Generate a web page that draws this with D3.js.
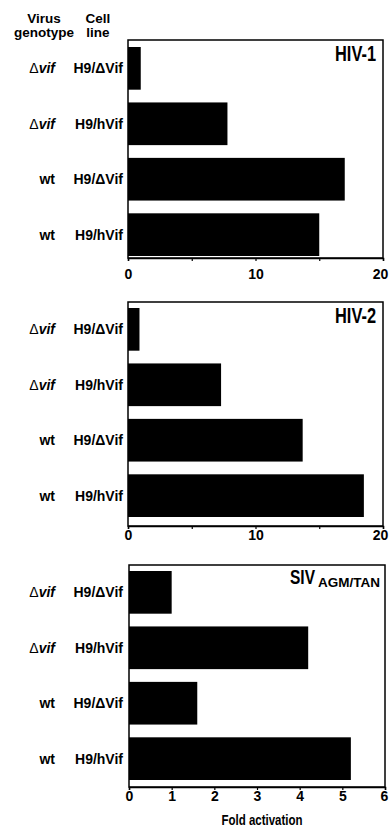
<!DOCTYPE html>
<html>
<head>
<meta charset="utf-8">
<script src="https://cdn.jsdelivr.net/npm/d3@7"></script>
<style>
  body { margin: 0; background: #fff; }
  text { font-family: "Liberation Sans", Arial, Helvetica, sans-serif; font-weight: bold; fill: #000; }
</style>
</head>
<body>
<script>
// Width and height
var w = 389;
var h = 829;

// Row labels (same for every panel)
var genotypes = ["vif", "vif", "wt", "wt"];
var cellLines = ["H9/\u0394Vif", "H9/hVif", "H9/\u0394Vif", "H9/hVif"];

// Fold activation values
var hiv1 = [1.0, 7.8, 17.0, 15.0];
var hiv2 = [0.9, 7.3, 13.7, 18.5];
var siv = [1.0, 4.2, 1.6, 5.2];

// Axis ticks
var ticks20 = [0, 5, 10, 15, 20];
var labels20 = [0, 10, 20];
var ticks6 = [0, 1, 2, 3, 4, 5, 6];

// Panel layout
var panels = [
  { values: hiv1, max: 20, ticks: ticks20, labels: labels20, left: 128, right: 383, top: 40, bottom: 258, barTop: 47, barBottom: 256, pad: 8 },
  { values: hiv2, max: 20, ticks: ticks20, labels: labels20, left: 128, right: 383, top: 302, bottom: 526, barTop: 308, barBottom: 517, pad: 1 },
  { values: siv, max: 6, ticks: ticks6, labels: ticks6, left: 129, right: 385, top: 565, bottom: 787, barTop: 571, barBottom: 780, pad: 1 }
];

var svg = d3.select("body")
            .append("svg")
            .attr("width", w)
            .attr("height", h);

// Column headers
var headers = [["Virus", 44, 23], ["genotype", 44, 37], ["Cell", 98, 23], ["line", 98, 37]];
svg.selectAll("text.header")
   .data(headers)
   .enter()
   .append("text")
   .attr("class", "header")
   .attr("x", function(d) { return d[1]; })
   .attr("y", function(d) { return d[2]; })
   .attr("text-anchor", "middle")
   .style("font-size", "13.5px")
   .text(function(d) { return d[0]; });

panels.forEach(function(p, idx) {
    var x = d3.scaleLinear().domain([0, p.max]).range([p.left, p.right]);
    var y = d3.scaleBand()
              .domain(d3.range(p.values.length))
              .range([p.barTop, p.barBottom])
              .paddingInner(0.23)
              .paddingOuter(0);

    var g = svg.append("g");

    // bars
    g.selectAll("rect.bar")
     .data(p.values)
     .enter()
     .append("rect")
     .attr("class", "bar")
     .attr("x", x(0))
     .attr("y", function(d, i) { return y(i); })
     .attr("width", function(d) { return x(d) - x(0); })
     .attr("height", y.bandwidth())
     .attr("fill", "#000");

    // frame
    g.append("rect")
     .attr("x", p.left)
     .attr("y", p.top)
     .attr("width", p.right - p.left)
     .attr("height", p.bottom - p.top)
     .attr("fill", "none")
     .attr("stroke", "#000")
     .attr("stroke-width", 1.5);

    // x axis
    var axis = g.append("g")
                .attr("transform", "translate(0," + p.bottom + ")")
                .call(d3.axisBottom(x)
                        .tickValues(p.ticks)
                        .tickSize(3)
                        .tickPadding(p.pad)
                        .tickFormat(function(d) { return p.labels.indexOf(d) >= 0 ? d : ""; }));
    axis.select(".domain").attr("stroke-width", 1.5);
    axis.selectAll("line").attr("stroke-width", 1.2);
    axis.selectAll("text")
        .style("font-size", "14px")
        .style("font-family", "'Liberation Sans', Arial, sans-serif")
        .style("font-weight", "bold")
        .attr("fill", "#000");
    // keep the last label inside the page (it sits right on the edge)
    axis.selectAll(".tick text")
        .filter(function(d) { return d === p.max; })
        .attr("dx", function() {
            var bb = this.getBBox();
            var right = x(p.max) + bb.x + bb.width;
            return right > w - 1 ? (w - 1 - right) : 0;
        });

    // genotype labels
    var gt = g.selectAll("text.geno")
              .data(genotypes)
              .enter()
              .append("text")
              .attr("class", "geno")
              .attr("x", 55)
              .attr("y", function(d, i) { return y(i) + y.bandwidth() / 2 + 5; })
              .attr("text-anchor", "end")
              .style("font-size", "14px");
    gt.each(function(d) {
        var t = d3.select(this);
        if (d === "wt") {
            t.text("wt");
        } else {
            t.append("tspan").style("font-weight", "normal").text("\u0394");
            t.append("tspan").style("font-style", "italic").text(d);
        }
    });

    // cell line labels
    g.selectAll("text.cell")
     .data(cellLines)
     .enter()
     .append("text")
     .attr("class", "cell")
     .attr("x", 123)
     .attr("y", function(d, i) { return y(i) + y.bandwidth() / 2 + 5; })
     .attr("text-anchor", "end")
     .style("font-size", "14px")
     .text(function(d) { return d; });

    // panel titles
    if (idx < 2) {
        g.append("text")
         .attr("x", 335)
         .attr("y", p.top + 21)
         .attr("textLength", 41)
         .attr("lengthAdjust", "spacingAndGlyphs")
         .style("font-size", "22px")
         .text(idx === 0 ? "HIV-1" : "HIV-2");
    } else {
        g.append("text")
         .attr("x", 290)
         .attr("y", p.top + 19)
         .attr("textLength", 25)
         .attr("lengthAdjust", "spacingAndGlyphs")
         .style("font-size", "21px")
         .text("SIV");
        g.append("text")
         .attr("x", 318)
         .attr("y", p.top + 22)
         .attr("textLength", 62)
         .attr("lengthAdjust", "spacingAndGlyphs")
         .style("font-size", "13px")
         .text("AGM/TAN");
    }
});

// x axis title
svg.append("text")
   .attr("x", 262)
   .attr("y", 825)
   .attr("text-anchor", "middle")
   .attr("textLength", 81)
   .attr("lengthAdjust", "spacingAndGlyphs")
   .style("font-size", "14px")
   .text("Fold activation");
</script>
</body>
</html>
